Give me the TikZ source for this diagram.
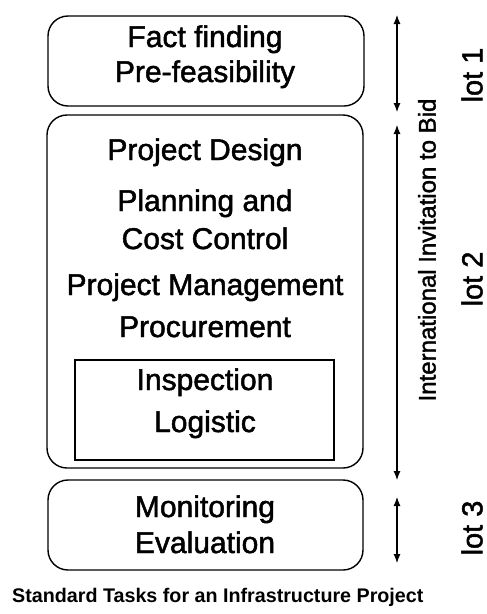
\documentclass[tikz,border=0pt]{standalone}
\usepackage{fontspec}
\setmainfont{Liberation Sans}
\newfontfamily\heavy{Liberation Sans}[FakeBold=1.6]
\usetikzlibrary{arrows.meta}
\begin{document}
\begin{tikzpicture}[x=1pt,y=-1pt,
  box/.style={draw=black,line width=1.4pt,rounded corners=20pt},
  inbox/.style={draw=black,line width=1.1pt},
  lbl/.style={anchor=base,inner sep=0pt,font=\heavy\fontsize{30}{36}\selectfont},
  side/.style={rotate=90,inner sep=0pt,font=\heavy\fontsize{24}{28}\selectfont},
  lot/.style={rotate=90,inner sep=0pt,font=\heavy\fontsize{29}{34}\selectfont},
  span/.style={line width=1.1pt,{Latex[length=9pt,width=7pt]}-{Latex[length=9pt,width=7pt]}}]
\useasboundingbox (0,0) rectangle (487,614);
\fill[white] (0,0) rectangle (487,614);
% boxes
\draw[box] (48,16) rectangle (364,106);
\draw[box] (47,115) rectangle (363,468);
\draw[inbox] (75,360) rectangle (334,460);
\draw[box] (48,480) rectangle (363,570);
% texts
\node[lbl] (t1) at (205,47) {Fact finding};
\node[lbl] (t2) at (205,82) {Pre-feasibility};
\node[lbl] (t3) at (205,160) {Project Design};
\node[lbl] (t4) at (205,211) {Planning and};
\node[lbl] (t5) at (205,249) {Cost Control};
\node[lbl] (t6) at (205,295) {Project Management};
\node[lbl] (t7) at (205,337) {Procurement};
\node[lbl] (t8) at (205,390) {Inspection};
\node[lbl] (t9) at (205,432) {Logistic};
\node[lbl] (t10) at (205,517) {Monitoring};
\node[lbl] (t11) at (205,553) {Evaluation};
% arrows
\coordinate (a1t) at (397,15);
\coordinate (a1b) at (397,112);
\coordinate (a2t) at (397,125);
\coordinate (a2b) at (397,480);
\coordinate (a3t) at (397,497);
\coordinate (a3b) at (397,563);
\draw[span] (a1t) -- (a1b);
\draw[span] (a2t) -- (a2b);
\draw[span] (a3t) -- (a3b);
% side labels
\node[side] (iib) at (427,250) {International Invitation to Bid};
\node[lot] (l1) at (472,75) {lot 1};
\node[lot] (l2) at (472,279) {lot 2};
\node[lot] (l3) at (472,528) {lot 3};
% caption
\node[anchor=base west,inner sep=0pt,font=\bfseries\fontsize{19.7}{24}\selectfont] (cap) at (12,602) {Standard Tasks for an Infrastructure Project};
\end{tikzpicture}
\end{document}
